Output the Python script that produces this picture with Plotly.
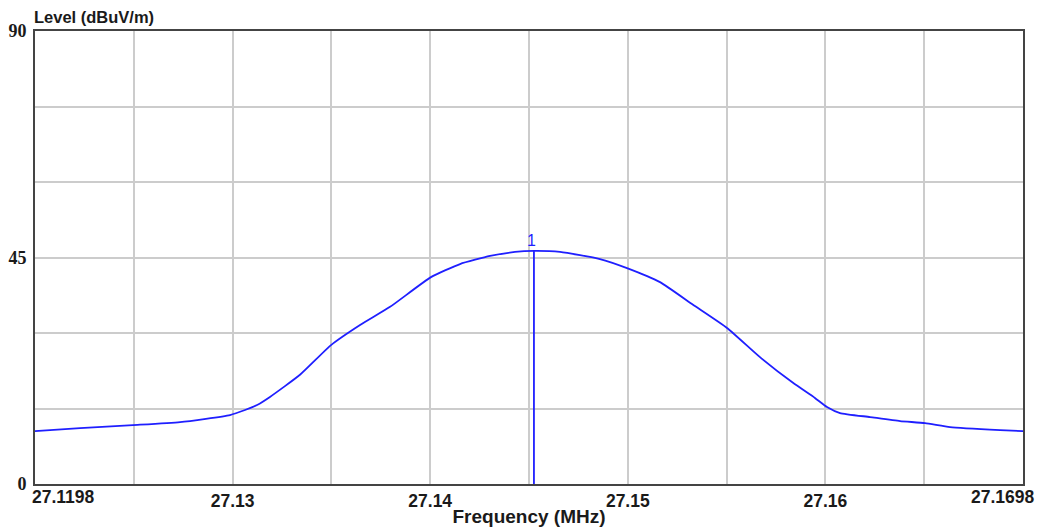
import plotly.graph_objects as go

freq_mhz = [27.1198, 27.12208, 27.12476, 27.12714, 27.12967, 27.13043, 27.13104,
            27.13169, 27.13321, 27.13478, 27.13625, 27.13777, 27.13984, 27.14131,
            27.14283, 27.14409, 27.14505, 27.14637, 27.14839, 27.14976, 27.15143,
            27.15310, 27.15482, 27.15649, 27.15816, 27.15927, 27.15988, 27.16054,
            27.16206, 27.16358, 27.16484, 27.16611, 27.16864, 27.1698]
level_dbuv = [10.5, 11.1, 11.7, 12.3, 13.7, 14.7, 15.7,
              17.3, 21.7, 27.6, 31.6, 35.2, 41.1, 43.7,
              45.3, 46.1, 46.3, 46.1, 44.7, 42.9, 40.1,
              35.6, 31.0, 25.2, 20.1, 17.1, 15.3, 14.1,
              13.3, 12.5, 12.1, 11.3, 10.7, 10.5]

marker_freq = 27.14505
marker_level = 46.3
marker_label = "1"

x_min, x_max = 27.1198, 27.1698
x_grid = [27.1198 + 0.005 * k for k in range(11)]
x_ticktext = ["", "", "27.13", "", "27.14", "", "27.15", "", "27.16", "", ""]
x_edge_labels = ["27.1198", "27.1698"]
y_ticks = [0, 15, 30, 45, 60, 75, 90]
y_ticktext = ["0", "", "", "45", "", "", "90"]

blue = "#1f1fff"
ink = "#1a1a1a"
tick_font = dict(family="Liberation Sans, Arial", size=17.5, color=ink)
ylabel_font = dict(family="Liberation Sans, Arial", size=16.5, color=ink)
xtitle_font = dict(family="Liberation Sans, Arial", size=19, color=ink)


def bold(t):
    return "<b>%s</b>" % t if t else ""


fig = go.Figure()
fig.add_trace(go.Scatter(x=freq_mhz, y=level_dbuv, mode="lines",
                         line=dict(color=blue, width=1.8, shape="spline", smoothing=0.5),
                         hoverinfo="skip"))
fig.add_trace(go.Scatter(x=[marker_freq, marker_freq], y=[0, marker_level], mode="lines",
                         line=dict(color=blue, width=1.8), hoverinfo="skip"))

fig.add_annotation(x=marker_freq, y=marker_level, xref="x", yref="y", text=marker_label,
                   showarrow=False, yanchor="bottom", yshift=0, xshift=-2,
                   font=dict(family="Liberation Sans, Arial", size=16, color=blue))
fig.add_annotation(x=x_min, y=0, xref="x", yref="y", text=bold(x_edge_labels[0]),
                   showarrow=False, xanchor="left", yanchor="top", xshift=-5, yshift=-1,
                   font=tick_font)
fig.add_annotation(x=x_max, y=0, xref="x", yref="y", text=bold(x_edge_labels[1]),
                   showarrow=False, xanchor="right", yanchor="top", xshift=14, yshift=-1,
                   font=tick_font)
fig.add_annotation(x=0, y=1, xref="paper", yref="paper", text=bold("Level (dBuV/m)"),
                   showarrow=False, xanchor="left", yanchor="bottom", xshift=-3, yshift=3,
                   font=ylabel_font)

fig.update_layout(
    width=1037, height=524,
    margin=dict(l=27, r=22, t=23, b=48, autoexpand=False),
    paper_bgcolor="white", plot_bgcolor="white",
    showlegend=False,
    xaxis=dict(range=[x_min, x_max], tickvals=x_grid, ticktext=[bold(t) for t in x_ticktext],
               showgrid=True, gridcolor="#cccccc", gridwidth=2,
               showline=True, linecolor="#444444", linewidth=2, mirror=True,
               ticks="", zeroline=False, automargin=False, ticklabelstandoff=0,
               tickfont=tick_font,
               title=dict(text=bold("Frequency (MHz)"), font=xtitle_font, standoff=0)),
    yaxis=dict(range=[0, 90], tickvals=y_ticks, ticktext=[bold(t) for t in y_ticktext],
               showgrid=True, gridcolor="#cccccc", gridwidth=2,
               showline=True, linecolor="#444444", linewidth=2, mirror=True,
               ticks="", zeroline=False, ticklabelstandoff=3, automargin=False,
               tickfont=dict(family="Liberation Serif, Times New Roman", size=18, color=ink)),
)

fig.write_html("out.html")
